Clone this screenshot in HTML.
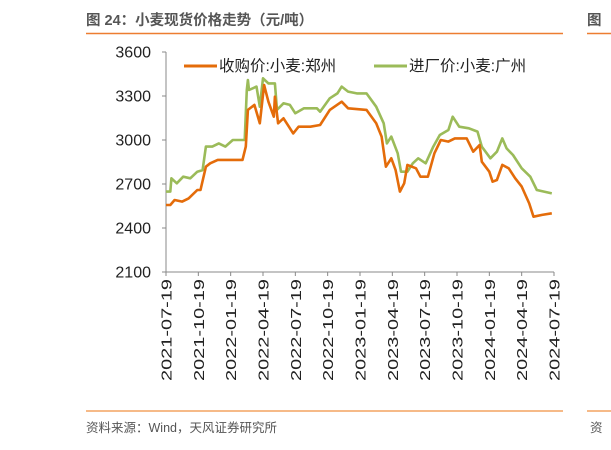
<!DOCTYPE html>
<html><head><meta charset="utf-8"><style>
body{margin:0;width:611px;height:445px;background:#fff;overflow:hidden;font-family:"Liberation Sans","Noto Sans CJK SC",sans-serif}
</style></head><body>
<svg width="611" height="445" xmlns="http://www.w3.org/2000/svg">
<text x="86" y="25" font-size="14.5" font-weight="bold" fill="#555" font-family="Liberation Sans, Noto Sans CJK SC, sans-serif">图 24：小麦现货价格走势（元/吨）</text>
<line x1="86" y1="33.5" x2="563" y2="33.5" stroke="#ED7D31" stroke-width="1.5"/>
<line x1="587" y1="33.5" x2="611" y2="33.5" stroke="#ED7D31" stroke-width="1.5"/>
<text x="587" y="25" font-size="14.5" font-weight="bold" fill="#555" font-family="Noto Sans CJK SC, sans-serif">图</text>
<line x1="86" y1="411" x2="563" y2="411" stroke="#F4A460" stroke-width="1.5"/>
<line x1="587" y1="411" x2="611" y2="411" stroke="#F4A460" stroke-width="1.5"/>
<text x="86" y="432" font-size="12.5" fill="#555" font-family="Liberation Sans, Noto Sans CJK SC, sans-serif">资料来源：Wind，天风证券研究所</text>
<text x="590" y="432" font-size="12.5" fill="#555" font-family="Noto Sans CJK SC, sans-serif">资</text>
<g id="plot"></g>
</svg>
<script>
const yTicks=[2100,2400,2700,3000,3300,3600];
const xTickLabels=["2021-07-19","2021-10-19","2022-01-19","2022-04-19","2022-07-19","2022-10-19","2023-01-19","2023-04-19","2023-07-19","2023-10-19","2024-01-19","2024-04-19","2024-07-19"];
const seriesNames=["收购价:小麦:郑州","进厂价:小麦:广州"];
const greenMonths=[0,0.4,0.5,1.0,1.6,2.25,2.9,3.4,3.7,4.3,4.9,5.5,6.2,7.3,7.5,7.6,7.7,8.4,8.7,9.0,9.5,10.1,10.3,10.9,11.5,12.0,12.8,14.0,14.3,15.2,15.9,16.3,16.9,17.7,18.6,19.5,20.2,20.5,20.9,21.5,21.8,22.4,22.9,23.4,24.1,24.8,25.4,26.2,26.6,27.2,28.1,28.9,29.3,30.1,30.7,31.2,31.6,32.2,33.0,33.8,34.4,35.8];
const greenValues=[2648,2648,2739,2705,2750,2739,2784,2795,2955,2955,2977,2955,3000,3000,3341,3409,3341,3364,3227,3421,3386,3386,3205,3250,3239,3182,3216,3216,3193,3284,3318,3364,3330,3318,3318,3227,3114,2977,3023,2909,2784,2784,2841,2875,2841,2955,3034,3068,3159,3091,3080,3057,2955,2875,2920,3011,2943,2898,2807,2750,2659,2636];
const orangeMonths=[0,0.4,0.8,1.5,2.1,2.9,3.2,3.7,4.1,4.8,5.5,7.1,7.4,7.6,8.2,8.7,9.1,9.5,10.0,10.1,10.4,10.9,11.4,11.8,12.3,13.4,14.3,15.2,16.3,16.9,18.6,19.5,20.0,20.4,20.9,21.3,21.7,22.1,22.4,23.2,23.6,24.3,24.9,25.5,26.2,26.8,27.9,28.5,29.1,29.3,30.0,30.3,30.7,31.2,31.8,32.4,33.0,33.7,34.1,34.9,35.8];
const orangeValues=[2557,2557,2591,2580,2602,2659,2659,2818,2841,2864,2864,2864,2955,3205,3239,3114,3375,3261,3159,3295,3114,3148,3091,3045,3091,3091,3102,3205,3261,3216,3205,3114,3023,2818,2875,2795,2648,2705,2830,2807,2750,2750,2909,3000,2989,3011,3011,2920,2966,2852,2784,2716,2727,2830,2807,2739,2682,2568,2477,2489,2500];

const NS="http://www.w3.org/2000/svg";
const L=166,R=554,T=52,B=272;
const xScale=m=>L+(R-L)*m/36;
const yScale=v=>B-(v-2100)/(3600-2100)*(B-T);
const g=document.getElementById('plot');
function mk(tag,attrs){const e=document.createElementNS(NS,tag);for(const k in attrs)e.setAttribute(k,attrs[k]);g.appendChild(e);return e;}

const yAxis=mk('line',{x1:L,y1:T,x2:L,y2:B,stroke:'#888','stroke-width':1});


const xAxis=mk('line',{x1:L,y1:B,x2:R,y2:B,stroke:'#888','stroke-width':1});



yTicks.forEach(v=>{
  const y=yScale(v);
  const t=mk('line',{x1:L-4,y1:y,x2:L,y2:y,stroke:'#888'});
  
  
  const lb=mk('text',{x:151,y:y+5.5,'text-anchor':'end','font-size':16,fill:'#222'});
  lb.textContent=v;
  
  
});
xTickLabels.forEach((s,i)=>{
  const x=xScale(i*3);
  const t=mk('line',{x1:x,y1:B,x2:x,y2:B+4,stroke:'#888'});
  
  
  const lb=mk('text',{x:0,y:0,'text-anchor':'end','font-size':15,fill:'#222',textLength:102,lengthAdjust:'spacingAndGlyphs',transform:`translate(${x+5.5},${B+7}) rotate(-90)`});
  lb.textContent=s;
  
  
});
function line(ms,vs,color,name){
  const d=ms.map((m,i)=>(i?'L':'M')+xScale(m).toFixed(1)+','+yScale(vs[i]).toFixed(1)).join(' ');
  const p=mk('path',{d:d,fill:'none',stroke:color,'stroke-width':2.6,'stroke-linejoin':'round'});
  
  
}
line(greenMonths,greenValues,'#9BBB59','series-guangzhou-line');
line(orangeMonths,orangeValues,'#E46C0A','series-zhengzhou-line');

const legendX=[184,374],colors=['#E46C0A','#9BBB59'];
seriesNames.forEach((n,i)=>{
  const s=mk('line',{x1:legendX[i],y1:66,x2:legendX[i]+33,y2:66,stroke:colors[i],'stroke-width':3});
  
  
  const t=mk('text',{x:legendX[i]+35,y:71,'font-size':15.5,fill:'#222'});
  t.textContent=n;
  
  
});
</script>
</body></html>
